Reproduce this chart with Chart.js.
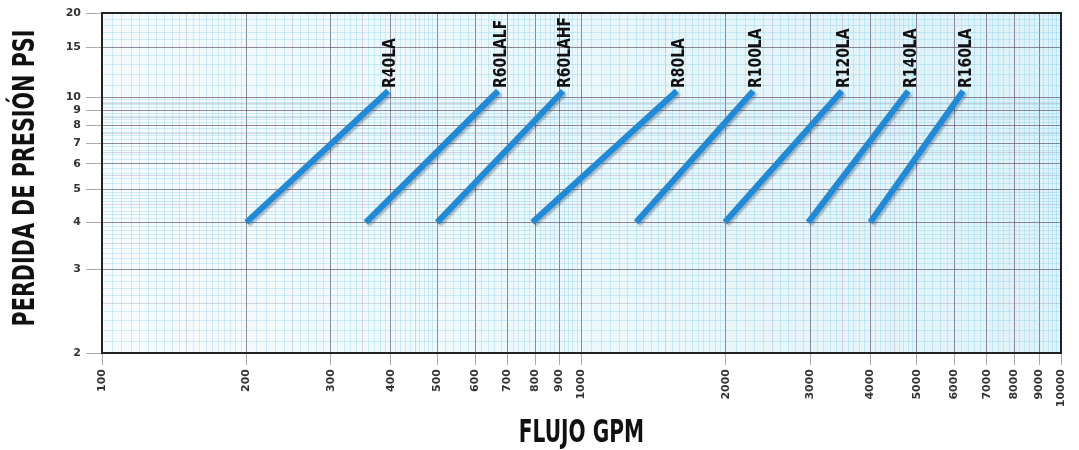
<!DOCTYPE html>
<html>
<head>
<meta charset="utf-8">
<script src="https://cdn.jsdelivr.net/npm/chart.js@4.4.1/dist/chart.umd.min.js"></script>
<style>
  html, body { margin: 0; padding: 0; background: #ffffff; }
  #wrap { width: 1079px; height: 450px; position: relative; }
</style>
</head>
<body>
<div id="wrap"><canvas id="c" width="1079" height="450"></canvas></div>
<script>
// ---- data ----
const categories = ['R40LA', 'R60LALF', 'R60LAHF', 'R80LA', 'R100LA', 'R120LA', 'R140LA', 'R160LA'];
const flowAtLowPsi  = [200, 355, 500, 790, 1300, 1990, 2970, 4000];   // GPM at 4 psi
const flowAtHighPsi = [395, 670, 915, 1580, 2280, 3490, 4800, 6250];  // GPM at top of line
const psiLow  = [4, 4, 4, 4, 4, 4, 4, 4];
const psiHigh = [10.5, 10.5, 10.5, 10.5, 10.5, 10.5, 10.5, 10.5];
const xTickLabels = [100, 200, 300, 400, 500, 600, 700, 800, 900, 1000, 2000, 3000, 4000, 5000, 6000, 7000, 8000, 9000, 10000];
const yTickLabels = [2, 3, 4, 5, 6, 7, 8, 9, 10, 15, 20];
const xTitle = 'FLUJO GPM';
const yTitle = 'PERDIDA DE PRESIÓN PSI';

// ---- graph-paper minor grid values (styling only) ----
function range(a, b, step) { const out = []; for (let v = a; v <= b + 1e-9; v += step) out.push(Math.round(v * 100) / 100); return out; }
const xMinor = [].concat(range(100, 200, 5), range(200, 500, 10), range(500, 1000, 20), range(1000, 2000, 50), range(2000, 5000, 100), range(5000, 10000, 200));
const xMedium = [].concat(range(100, 500, 50), range(1000, 5000, 500));
const yMinor = [].concat(range(2, 5, 0.1), range(5, 10, 0.2), range(10, 20, 1));
const yMedium = [].concat(range(2, 10, 0.5), range(10, 20, 5));
const uniq = arr => Array.from(new Set(arr)).sort((a, b) => a - b);
const xAllTicks = uniq(xMinor.concat(xMedium, xTickLabels));
const yAllTicks = uniq(yMinor.concat(yMedium, yTickLabels));
const near = (arr, v) => arr.some(t => Math.abs(t - v) < 1e-6);

// ---- custom log-type pressure scale (paper's y axis is log of (p - offset)) ----
class PaperLogScale extends Chart.Scale {
  determineDataLimits() {
    this.min = this.options.min;
    this.max = this.options.max;
  }
  buildTicks() {
    return yAllTicks.map(v => ({ value: v }));
  }
  getLabelForValue(v) { return String(v); }
  configure() {
    super.configure();
    const off = this.options.offsetValue;
    this._lo = Math.log10(this.min - off);
    this._span = Math.log10(this.max - off) - this._lo;
  }
  getPixelForValue(v) {
    const off = this.options.offsetValue;
    return this.getPixelForDecimal((Math.log10(v - off) - this._lo) / this._span);
  }
  getValueForPixel(p) {
    const off = this.options.offsetValue;
    return Math.pow(10, this._lo + this.getDecimalForPixel(p) * this._span) + off;
  }
}
PaperLogScale.id = 'paperlog';
PaperLogScale.defaults = {};
Chart.register(PaperLogScale);

const lineColor = 'rgb(30,138,218)';
const datasets = categories.map((name, i) => ({
  label: name,
  data: [{ x: flowAtLowPsi[i], y: psiLow[i] }, { x: flowAtHighPsi[i], y: psiHigh[i] }],
  borderColor: lineColor,
  backgroundColor: lineColor,
  borderWidth: 6,
  borderCapStyle: 'butt',
  pointRadius: 0,
  fill: false,
  tension: 0
}));

function gridColor(v, major, medium) {
  if (near(major, v)) return 'rgba(90,75,105,0.65)';
  if (near(medium, v)) return 'rgba(160,130,175,0.32)';
  return 'rgba(120,205,232,0.32)';
}

const boldFont = '"DejaVu Sans", sans-serif';

// draws condensed text: horizontally squeezed real text
function condensedText(ctx, text, x, y, size, squeeze, rotate) {
  ctx.save();
  ctx.translate(x, y);
  if (rotate) ctx.rotate(-Math.PI / 2);
  ctx.scale(squeeze, 1);
  ctx.font = 'bold ' + size + 'px ' + boldFont;
  ctx.fillText(text, 0, 0);
  ctx.restore();
}

const paperPlugin = {
  id: 'paper',
  beforeDraw(chart) {
    const { ctx, chartArea: a } = chart;
    const g = ctx.createLinearGradient(a.left, a.bottom, a.right, a.top);
    g.addColorStop(0, '#f7fbfd');
    g.addColorStop(0.5, '#ebf7fb');
    g.addColorStop(1, '#dcf1f8');
    ctx.save();
    ctx.fillStyle = g;
    ctx.fillRect(a.left, a.top, a.right - a.left, a.bottom - a.top);
    ctx.restore();
  },
  beforeDatasetDraw(chart) {
    const ctx = chart.ctx;
    ctx.save();
    ctx.shadowColor = 'rgba(60,60,60,0.35)';
    ctx.shadowOffsetX = 2;
    ctx.shadowOffsetY = 2;
    ctx.shadowBlur = 2;
  },
  afterDatasetDraw(chart) {
    chart.ctx.restore();
  },
  afterDatasetsDraw(chart) {
    const { ctx, chartArea: a } = chart;
    ctx.save();
    ctx.strokeStyle = '#222';
    ctx.lineWidth = 2;
    ctx.strokeRect(a.left, a.top, a.right - a.left, a.bottom - a.top);
    ctx.fillStyle = '#111';
    ctx.textAlign = 'left';
    ctx.textBaseline = 'middle';
    chart.data.datasets.forEach((ds, i) => {
      const meta = chart.getDatasetMeta(i);
      const pt = meta.data[meta.data.length - 1];
      condensedText(ctx, ds.label, pt.x + 3, pt.y - 3, 17, 0.82, true);
    });
    // axis titles (condensed bold)
    ctx.textAlign = 'center';
    ctx.textBaseline = 'middle';
    condensedText(ctx, yTitle, 26, 178, 30, 0.69, true);
    condensedText(ctx, xTitle, (a.left + a.right) / 2, 434, 32, 0.63, false);
    ctx.restore();
  }
};

new Chart(document.getElementById('c'), {
  type: 'line',
  data: { datasets },
  plugins: [paperPlugin],
  options: {
    responsive: false,
    animation: false,
    events: [],
    layout: { padding: { left: 0, right: 18, top: 13, bottom: 0 } },
    plugins: { legend: { display: false }, tooltip: { enabled: false } },
    scales: {
      x: {
        type: 'logarithmic',
        min: 100,
        max: 10000,
        afterBuildTicks: s => { s.ticks = xAllTicks.map(v => ({ value: v })); },
        afterFit: s => { s.height = 97; },
        border: { display: true, color: '#222', width: 2 },
        grid: {
          color: c => gridColor(c.tick.value, xTickLabels, xMedium),
          lineWidth: 1,
          drawTicks: true,
          tickLength: 12,
          tickColor: c => near(xTickLabels, c.tick.value) ? 'rgba(150,150,150,0.8)' : 'rgba(0,0,0,0)'
        },
        ticks: {
          autoSkip: false,
          minRotation: 90,
          maxRotation: 90,
          padding: 4,
          color: '#333',
          font: { family: boldFont, weight: 'bold', size: 11 },
          callback: v => near(xTickLabels, v) ? String(v) : ''
        },
        title: { display: false, text: xTitle }
      },
      y: {
        type: 'paperlog',
        min: 2,
        max: 20,
        offsetValue: 1.1,
        afterFit: s => { s.width = 102; },
        border: { display: true, color: '#222', width: 2 },
        grid: {
          color: c => gridColor(c.tick.value, yTickLabels, yMedium),
          lineWidth: 1,
          drawTicks: true,
          tickLength: 16,
          tickColor: c => near(yTickLabels, c.tick.value) ? 'rgba(150,150,150,0.8)' : 'rgba(0,0,0,0)'
        },
        ticks: {
          autoSkip: false,
          padding: 5,
          color: '#333',
          font: { family: boldFont, weight: 'bold', size: 11 },
          callback: v => near(yTickLabels, v) ? String(v) : ''
        },
        title: { display: false, text: yTitle }
      }
    }
  }
});
</script>
</body>
</html>
